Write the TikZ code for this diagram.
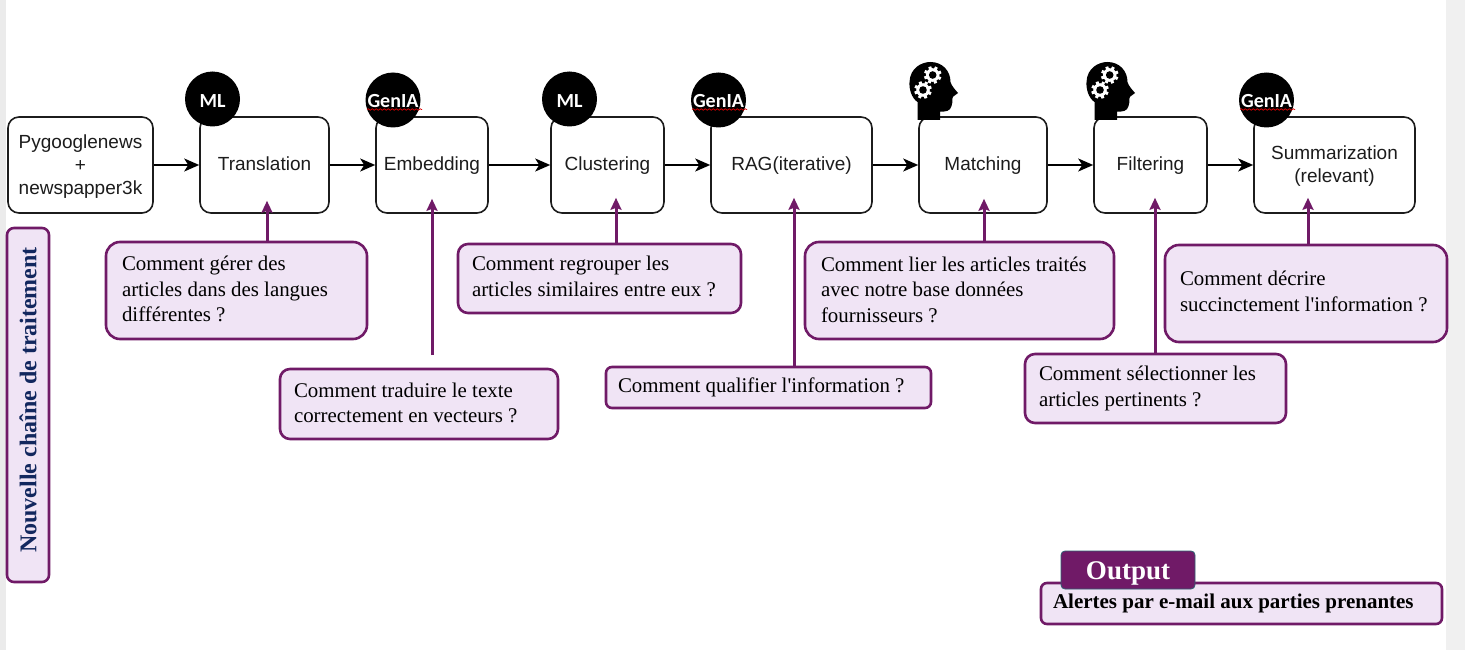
\documentclass[tikz,border=0pt]{standalone}
\usepackage{fontspec}
\setmainfont{Liberation Serif}
\newfontfamily\serf{Liberation Serif}
\newfontfamily\arialf{Liberation Sans}
\newfontfamily\calibf{Carlito}
\usetikzlibrary{arrows.meta,decorations.pathmorphing}
\definecolor{vio}{HTML}{701A67}
\definecolor{lil}{HTML}{F0E4F5}
\definecolor{ink}{HTML}{1C1C1C}
\definecolor{nav}{HTML}{12275E}
\definecolor{teal2}{HTML}{2F6272}
\tikzset{
  x=1pt,y=-1pt,
  procbox/.style={draw=ink,line width=1.6pt,rounded corners=11pt,fill=white,inner sep=0pt,text=ink,font=\arialf\fontsize{19}{23}\selectfont},
  callout/.style={draw=vio,line width=2.6pt,fill=lil,inner sep=0pt,text=black,font=\serf\fontsize{20.9}{25.5}\selectfont},
  flow/.style={draw=black,line width=1.8pt,-{Stealth[length=15pt,width=13pt,inset=4pt]}},
  ask/.style={draw=vio,line width=3pt,-{Stealth[length=12pt,width=11pt,inset=2pt]}},
  badge/.style={circle,fill=black,inner sep=0pt,minimum size=55pt,text=white,font=\calibf\bfseries\fontsize{20}{24}\selectfont},
  squig/.style={draw=red!85!black,line width=0.7pt,decorate,decoration={snake,amplitude=0.8pt,segment length=4pt}}
}
% name, text, x0, x1, y0, y1
\newcommand{\proc}[6]{\node[procbox,minimum width=#4 pt - #3 pt,minimum height=#6 pt - #5 pt] (#1) at ({(#3+#4)/2},{(#5+#6)/2})
  {\raisebox{-5.5pt}[0pt][0pt]{\parbox[c]{\dimexpr #4pt - #3pt\relax}{\centering #2}}};}
% name, x0, x1, y0, y1, left margin, raise, corner, text
\newcommand{\note}[9]{\node[callout,rounded corners=#8pt,minimum width=#3 pt - #2 pt,minimum height=#5 pt - #4 pt] (#1) at ({(#2+#3)/2},{(#4+#5)/2})
  {\raisebox{#7pt}[0pt][0pt]{\parbox[c]{\dimexpr #3pt - #2pt - 2\dimexpr #6pt\relax\relax}{\raggedright #9}}};}
\newcommand{\headicon}[2]{%
  \begin{scope}[shift={(#1,#2)}]
    \fill[black] (8,58) -- (8,40) .. controls (2,36) and (-0.5,27) .. (0,20) .. controls (0.5,6) and (12,0) .. (21,0) .. controls (33,0) and (41,9) .. (41,20) .. controls (42,24) and (46,28) .. (48.5,31) .. controls (47,33) and (43,34) .. (43,36) .. controls (43,39) and (43,42) .. (42,44) .. controls (41,49) and (36,50) .. (30.5,49.5) -- (30.5,58) -- cycle;
    \foreach \cx/\cy in {13.5/28,23.2/13}{
      \fill[white] (\cx,\cy) circle (6.8pt);
      \foreach \a in {0,45,...,315}{\fill[white,rotate around={\a+20:(\cx,\cy)}] (\cx-1.5,\cy-8.8) rectangle (\cx+1.5,\cy-5);}
      \fill[black] (\cx,\cy) circle (3.8pt);
    }
  \end{scope}}
\newcommand{\askline}[4]{\coordinate (ax) at (#3,0); \draw[ask] (ax |- #1.north) -- ([yshift=#4pt]ax |- #2.south);}
\begin{document}
\begin{tikzpicture}
\useasboundingbox (0,0) rectangle (1465,650);
\fill[white] (0,0) rectangle (1465,650);
\fill[black!8] (0,0) rectangle (6,650);
\fill[black!6] (1446,0) rectangle (1465,650);

\proc{src}{Pygooglenews\\+\\newspapper3k}{8}{153}{117}{213}
\proc{tr}{\strut Translation}{200}{329}{117}{213}
\proc{em}{\strut Embedding}{376}{488}{117}{213}
\proc{cl}{\strut Clustering}{551}{664}{117}{213}
\proc{rag}{\strut RAG(iterative)}{711}{872}{117}{213}
\proc{ma}{\strut Matching}{919}{1047}{117}{213}
\proc{fi}{\strut Filtering}{1094}{1207}{117}{213}
\proc{su}{Summarization\\(relevant)}{1254}{1415}{117}{213}

\draw[flow] (src) -- (tr);
\draw[flow] (tr) -- (em);
\draw[flow] (em) -- (cl);
\draw[flow] (cl) -- (rag);
\draw[flow] (rag) -- (ma);
\draw[flow] (ma) -- (fi);
\draw[flow] (fi) -- (su);

\node[badge] (b1) at (212.5,99) {\raisebox{-8.5pt}[0pt][0pt]{ML}};
\node[badge] (b2) at (393,100) {\raisebox{-7.5pt}[0pt][0pt]{GenIA}};
\node[badge] (b3) at (569.5,99) {\raisebox{-8.5pt}[0pt][0pt]{ML}};
\node[badge] (b4) at (718.5,100) {\raisebox{-7.5pt}[0pt][0pt]{GenIA}};
\node[badge] (b7) at (1266.5,100) {\raisebox{-7.5pt}[0pt][0pt]{GenIA}};
\draw[squig] (367,109.5) -- (422,109.5);
\draw[squig] (692,109.5) -- (747,109.5);
\draw[squig] (1240,109.5) -- (1295,109.5);
\headicon{909.5}{62}
\headicon{1086.5}{62}

\note{c1}{106}{367}{242}{339}{16}{-3.8}{14}{Comment gérer des\\articles dans des langues\\différentes ?}
\note{c2}{280}{558}{369}{439}{14}{-4}{10}{Comment traduire le texte\\correctement en vecteurs ?}
\note{c3}{458}{741}{244}{313}{14}{-3}{10}{Comment regrouper les\\articles similaires entre eux ?}
\note{c4}{606}{931}{367}{408}{12}{-5}{6}{Comment qualifier l'information ?}
\note{c5}{805}{1114}{242}{339}{16}{-4.3}{14}{Comment lier les articles traités\\avec notre base données\\fournisseurs ?}
\note{c6}{1025}{1286}{354}{423}{14}{-5}{10}{Comment sélectionner les\\articles pertinents ?}
\note{c7}{1165}{1447}{245}{342}{15}{-3}{14}{Comment décrire\\succinctement l'information ?}

\node[callout,rounded corners=7pt,minimum width=42pt,minimum height=354pt] (side) at (28,405)
  {\rotatebox[origin=c]{90}{\fontsize{24}{26}\selectfont\bfseries\color{nav}\kern10pt Nouvelle chaîne de traitement}};

\node[callout,rounded corners=6pt,minimum width=401pt,minimum height=41pt,font=\serf\bfseries\fontsize{21}{24}\selectfont] (alert) at (1241.5,603.5)
  {\raisebox{1pt}{\parbox{377pt}{Alertes par e-mail aux parties prenantes}}};
\node[draw=teal2,line width=0.8pt,fill=vio,rounded corners=4pt,minimum width=134pt,minimum height=38pt,inner sep=0pt,text=white,font=\serf\bfseries\fontsize{27}{30}\selectfont] (out) at (1128,570) {\raisebox{-9.5pt}[0pt][0pt]{Output}};

\coordinate (e2) at (432,355);
\askline{c1}{tr}{267}{13}
\draw[ask] (e2) -- ([yshift=15pt]e2 |- em.south);
\askline{c3}{cl}{616}{16}
\askline{c4}{rag}{794}{16}
\askline{c5}{ma}{984}{15}
\askline{c6}{fi}{1155}{16}
\askline{c7}{su}{1308}{16}
\end{tikzpicture}
\end{document}
